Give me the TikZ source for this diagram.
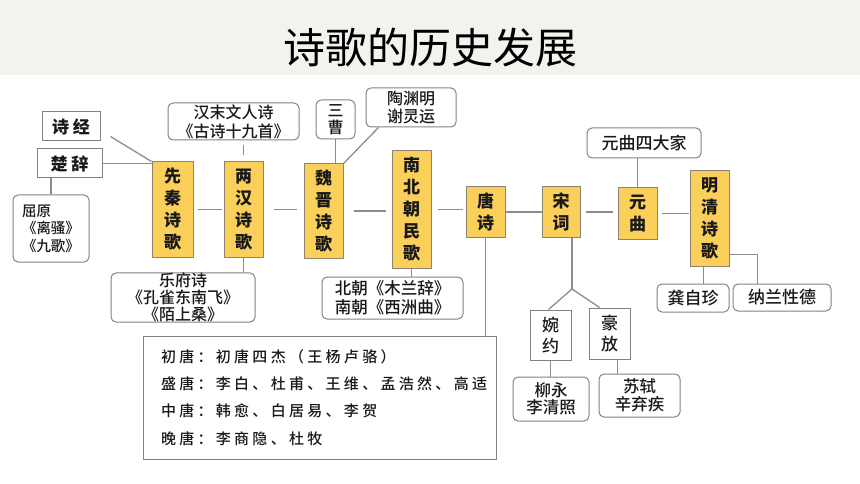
\documentclass[tikz,border=0pt]{standalone}
\usepackage{fontspec}
\usetikzlibrary{calc}
\newfontfamily\cjk{Noto Sans CJK SC}
\newfontfamily\cjkm{Noto Sans CJK SC Medium}
\newfontfamily\cjkls[LetterSpace=22]{Noto Sans CJK SC Medium}
\definecolor{band}{RGB}{243,242,239}
\definecolor{yfill}{RGB}{250,207,90}
\definecolor{ybd}{RGB}{140,132,112}
\definecolor{bd}{RGB}{130,130,130}
\definecolor{ln}{RGB}{140,140,140}
\definecolor{txt}{RGB}{25,25,25}
\tikzset{
  sz/.style 2 args={minimum width=#1pt, minimum height=#2pt},
  ybox/.style={draw=ybd, fill=yfill, line width=1pt, inner sep=0pt, align=center, text=txt,
    font=\cjk\bfseries\fontsize{17}{22}\selectfont},
  rbox/.style={draw=bd, line width=1pt, inner sep=0pt, align=center, text=txt,
    font=\cjkm\fontsize{16}{17}\selectfont},
  rrbox/.style={rbox, rounded corners=5pt},
  conn/.style={draw=ln, line width=1.3pt},
}
\begin{document}
\begin{tikzpicture}[x=1pt,y=-1pt]
\useasboundingbox (0,0) rectangle (860,484);
\fill[band] (0,0) rectangle (860,75);
\node[font=\cjk\fontsize{42}{42}\selectfont, text=black] (title) at (430,48) {诗歌的历史发展};

% period boxes
\node[ybox, sz={41}{95}] (xianqin) at (172.5,209.5) {先\\秦\\诗\\歌};
\node[ybox, sz={39}{95}] (lianghan) at (243.5,209.5) {两\\汉\\诗\\歌};
\node[ybox, sz={39}{94}] (weijin) at (323.5,211) {魏\\晋\\诗\\歌};
\node[ybox, sz={39}{117}] (nanbei) at (411.5,209.5) {南\\北\\朝\\民\\歌};
\node[ybox, sz={39}{50}] (tang) at (485.5,212) {唐\\诗};
\node[ybox, sz={38}{50}] (song) at (561,212) {宋\\词};
\node[ybox, sz={39}{51}] (yuan) at (637.5,213.5) {元\\曲};
\node[ybox, sz={39}{95}] (mingqing) at (709.5,218.5) {明\\清\\诗\\歌};

% square boxes
\node[rbox, sz={58}{29}, font=\cjk\bfseries\fontsize{17}{17}\selectfont] (shijing) at (71,126.5) {诗\hspace{4pt}经};
\node[rbox, sz={65}{29}, font=\cjk\bfseries\fontsize{17}{17}\selectfont] (chuci) at (69.5,163.5) {楚\hspace{4pt}辞};
\node[rbox, sz={41}{50}, font=\cjkm\fontsize{17}{21}\selectfont] (wanyue) at (550.5,335) {婉\\约};
\node[rbox, sz={41}{51}, font=\cjkm\fontsize{17}{21}\selectfont] (haofang) at (609.5,333.5) {豪\\放};
\node[rbox, sz={353}{123}, inner xsep=18pt, text width=317pt, align=left,
      font=\cjkls\fontsize{15}{27.3}\selectfont] (bigbox) at (319.5,397.5)
  {\mbox{初唐：初唐四杰（王杨卢骆）}\\
   \mbox{盛唐：李白、杜甫、王维、孟浩然、高适}\\
   \mbox{中唐：韩愈、白居易、李贺}\\
   \mbox{晚唐：李商隐、杜牧}};

% rounded boxes
\node[rrbox, sz={76}{67}, align=left, font=\cjkm\fontsize{14.5}{17.5}\selectfont] (quyuan) at (51,228.5) {屈原\\《离骚》\\《九歌》};
\node[rrbox, sz={131}{37}, font=\cjkm\fontsize{16}{19}\selectfont] (hanmo) at (233.5,121.5) {汉末文人诗\\《古诗十九首》};
\node[rrbox, sz={144}{49}] (yuefu) at (183,297.5) {乐府诗\\《孔雀东南飞》\\《陌上桑》};
\node[rrbox, sz={39}{39}] (sancao) at (335.5,119.5) {三\\曹};
\node[rrbox, sz={90}{39}, font=\cjkm\fontsize{16}{18}\selectfont] (taoyuan) at (411,107.5) {陶渊明\\谢灵运};
\node[rrbox, sz={141}{42}, align=left, font=\cjkm\fontsize{16.5}{19}\selectfont] (beichao) at (392.5,298) {北朝《木兰辞》\\南朝《西洲曲》};
\node[rrbox, sz={114}{30}, font=\cjkm\fontsize{17}{17}\selectfont] (yuan4) at (644,143) {元曲四大家};
\node[rrbox, sz={76}{44}, font=\cjkm\fontsize{16.5}{17}\selectfont] (liuyong) at (551,399) {柳永\\李清照};
\node[rrbox, sz={81}{43}, font=\cjkm\fontsize{16.5}{18}\selectfont] (sushi) at (639.5,395.5) {苏轼\\辛弃疾};
\node[rrbox, sz={72}{28}, font=\cjkm\fontsize{17}{17}\selectfont] (gong) at (693,298) {龚自珍};
\node[rrbox, sz={98}{27}, font=\cjkm\fontsize{17}{17}\selectfont] (nalan) at (782,297.5) {纳兰性德};

% connectors
\draw[conn] ($(shijing.south east)+(10,-5)$) -- (xianqin.north west);
\draw[conn] (chuci.east) -- (chuci.east -| xianqin.west);
\draw[conn] (quyuan.north) -- (quyuan.north |- chuci.south);
\draw[conn, shorten <=4pt, shorten >=2pt] (xianqin.east) -- (xianqin.east -| lianghan.west);
\draw[conn, shorten <=10pt, shorten >=7pt] (lianghan.east) -- (lianghan.east -| weijin.west);
\draw[conn, shorten <=10pt, shorten >=6pt] (weijin.east) -- (weijin.east -| nanbei.west);
\draw[conn, shorten <=6pt, shorten >=3pt] (nanbei.east) -- (nanbei.east -| tang.west);
\draw[conn] (tang.east) -- (song.west);
\draw[conn, shorten <=5pt, shorten >=5pt] (song.east) -- (song.east -| yuan.west);
\draw[conn, shorten <=4pt, shorten >=1pt] (yuan.east) -- (yuan.east -| mingqing.west);
\draw[conn, shorten <=6pt, shorten >=5pt] (lianghan.north) -- (lianghan.north |- hanmo.south);
\draw[conn] (lianghan.south) -- (lianghan.south |- yuefu.north);
\draw[conn] (sancao.south) -- (sancao.south |- weijin.north);
\draw[conn] ($(taoyuan.south west)+(13,0)$) -- (weijin.north east);
\draw[conn] (nanbei.south) -- (nanbei.south |- beichao.north);
\draw[conn] (tang.south) -- (tang.south |- bigbox.north);
\draw[conn] (yuan.north) -- (yuan.north |- yuan4.south);
\coordinate (br) at (572,289);
\draw[conn] (br |- song.south) -- (br);
\draw[conn] (br) -- ($(wanyue.north)+(-2,0)$);
\draw[conn] (br) -- ($(haofang.north)+(-10,0)$);
\draw[conn] (wanyue.south) -- (wanyue.south |- liuyong.north);
\coordinate (hs) at ($(haofang.south)+(8,0)$);
\draw[conn] (hs) -- (hs |- sushi.north);
\coordinate (ms) at ($(mingqing.south)+(-6,0)$);
\draw[conn] (ms) -- (ms |- gong.north);
\coordinate (me) at ($(mingqing.south east)+(0,-12)$);
\draw[conn] (me) -| ($(nalan.north west)+(25,0)$);
\end{tikzpicture}
\end{document}
